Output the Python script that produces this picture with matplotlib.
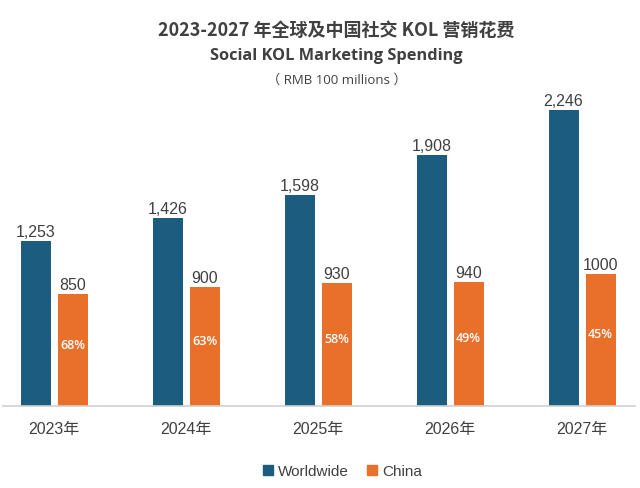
import numpy as np
import matplotlib.pyplot as plt
from matplotlib.patches import Patch

plt.rcParams['font.family'] = ['Liberation Sans', 'Noto Sans CJK SC', 'DejaVu Sans']

years = ['2023年', '2024年', '2025年', '2026年', '2027年']
worldwide = [1253, 1426, 1598, 1908, 2246]
china = [850, 900, 930, 940, 1000]
china_share = ['68%', '63%', '58%', '49%', '45%']
worldwide_labels = ['1,253', '1,426', '1,598', '1,908', '2,246']
china_labels = ['850', '900', '930', '940', '1000']

blue = '#1c5c7e'
orange = '#e8702b'
text_gray = '#404040'

fig = plt.figure(figsize=(6.4, 4.89), dpi=100)
ax = fig.add_axes([0.005, 0.1677, 0.987, 0.628])

x = np.arange(len(years))
w = 0.227
off = 0.14
ax.bar(x - off, worldwide, w, color=blue)
ax.bar(x + off, china, w, color=orange)

for i in range(len(years)):
    ax.annotate(worldwide_labels[i], (x[i] - off, worldwide[i]), xytext=(0, 1.5),
                textcoords='offset points', ha='center', va='bottom',
                fontsize=11.5, color=text_gray)
    ax.annotate(china_labels[i], (x[i] + off, china[i]), xytext=(0, 1.5),
                textcoords='offset points', ha='center', va='bottom',
                fontsize=11.5, color=text_gray)
    ax.text(x[i] + off, china[i] * 0.55, china_share[i], ha='center', va='center',
            fontsize=9, color='white', fontweight='semibold', family='Open Sans')

ax.set_xlim(-0.386, len(years) - 1 + 0.40)
ax.set_ylim(0, 2331)
ax.set_xticks(x)
ax.set_xticklabels(years, fontsize=11.5, color=text_gray)
ax.tick_params(axis='x', length=0, pad=11)
ax.set_yticks([])
for s in ['top', 'right', 'left']:
    ax.spines[s].set_visible(False)
ax.spines['bottom'].set_color('#d0d0d0')
ax.spines['bottom'].set_linewidth(1.2)

cx = 0.526
fig.text(cx, 0.938, '2023-2027 年全球及中国社交 KOL 营销花费', ha='center', va='center',
         fontsize=13, fontweight='bold', color=text_gray,
         family=['Noto Sans CJK SC'])
fig.text(cx, 0.885, 'Social KOL Marketing Spending', ha='center', va='center',
         fontsize=11.8, fontweight='bold', color=text_gray, family='Open Sans')
fig.text(cx, 0.836, '（ RMB 100 millions ）', ha='center', va='center',
         fontsize=9.5, color=text_gray, family=['Open Sans', 'Noto Sans CJK SC'])

handles = [Patch(color=blue, label='Worldwide'), Patch(color=orange, label='China')]
fig.legend(handles=handles, loc='center', bbox_to_anchor=(0.535, 0.034), ncol=2,
           frameon=False, fontsize=11, handlelength=0.65, handleheight=0.65,
           handletextpad=0.35, columnspacing=1.2, labelcolor=text_gray)

fig.savefig('out.png', dpi=100)
